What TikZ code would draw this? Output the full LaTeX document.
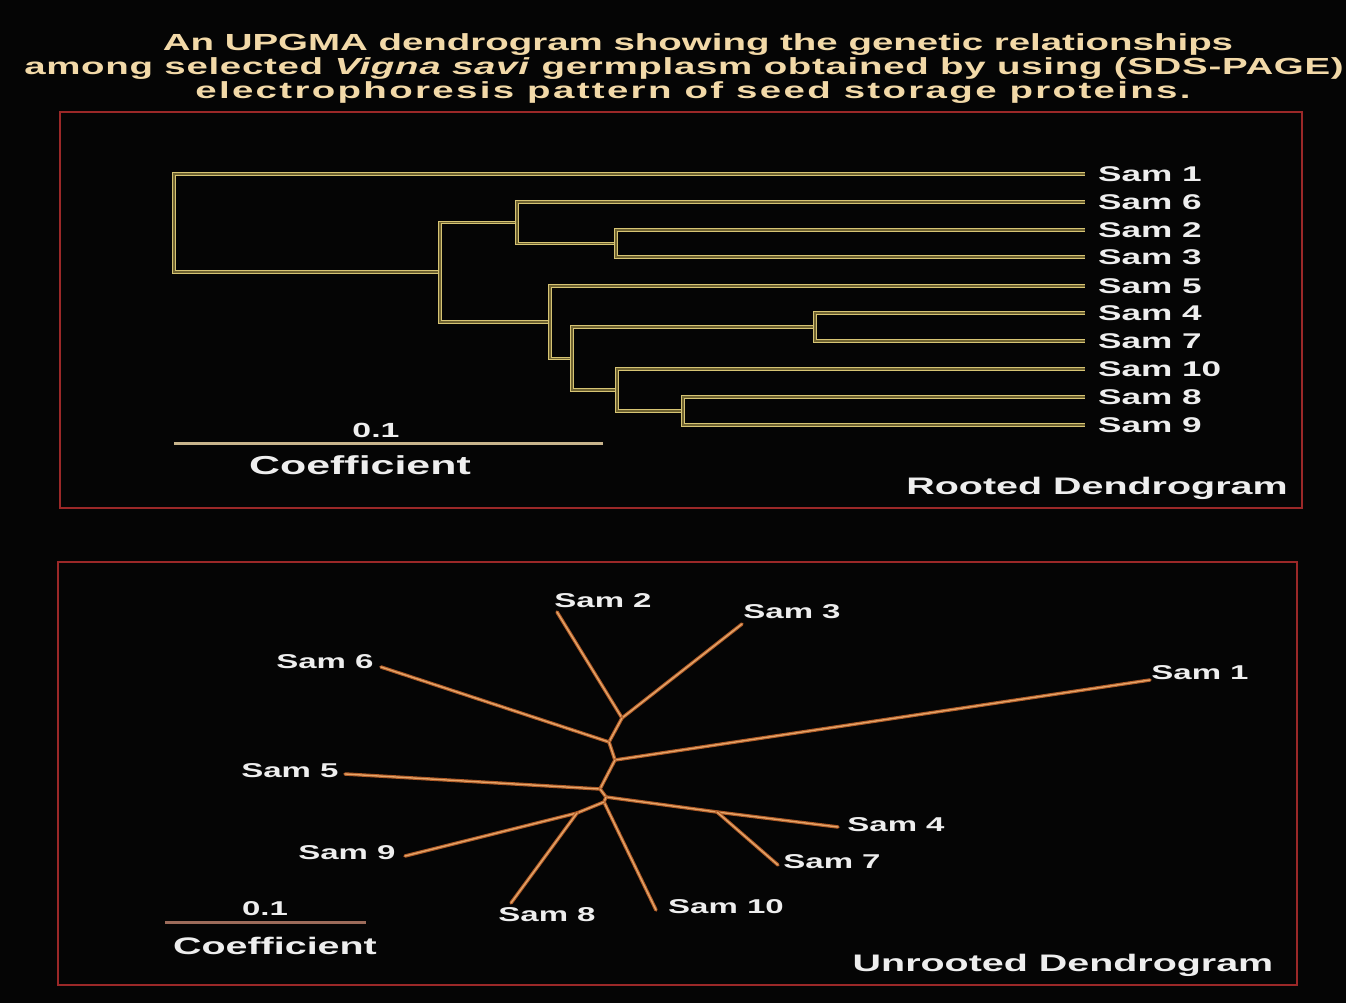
\documentclass[tikz,border=0pt]{standalone}
\usepackage{fontspec}
\setmainfont{Liberation Sans}[FakeStretch=1.65]
\definecolor{bg}{HTML}{050505}
\definecolor{titlecol}{HTML}{F2D9A8}
\definecolor{labcol}{HTML}{EEEEEE}
\definecolor{framecol}{HTML}{9B2828}
\definecolor{rootout}{HTML}{D6C474}
\definecolor{rootin}{HTML}{6E6230}
\definecolor{unout}{HTML}{B05C28}
\definecolor{unin}{HTML}{E6A66A}
\definecolor{rbar}{HTML}{C8B48C}
\definecolor{ubar}{HTML}{9C6B5A}
\tikzset{
  frame/.style={draw=framecol, line width=2pt},
  rtree/.style={draw=rootout, line width=1.2pt, double=rootin, double distance=1.2pt, line join=miter},
  utree/.style={draw=unout, line width=1.1pt, double=unin, double distance=1.3pt, line cap=round, line join=round},
  rlab/.style={anchor=west, inner xsep=13pt, inner ysep=0pt, text=labcol, font=\bfseries\fontsize{21.3}{22}\selectfont},
  ulab/.style={inner sep=0pt, text=labcol, font=\bfseries\fontsize{20}{21}\selectfont},
  ttl/.style={anchor=base, inner sep=0pt, text=titlecol, font=\bfseries\fontsize{23.3}{24}\selectfont},
  captext/.style={inner sep=0pt, text=labcol, font=\bfseries\fontsize{23.9}{25}\selectfont},
}
\begin{document}
\begin{tikzpicture}[x=1pt,y=-1pt]
\fill[bg] (0,0) rectangle (1346,1003);
\useasboundingbox (0,0) rectangle (1346,1003);

% title
\node[ttl] (t1) at (698,51) {An UPGMA dendrogram showing the genetic relationships};
\node[ttl] (t2) at (684,75) {\addfontfeature{LetterSpace=3}among selected \textit{Vigna savi} germplasm obtained by using (SDS-PAGE)};
\node[ttl] (t3) at (693,99) {\addfontfeature{LetterSpace=10}electrophoresis pattern of seed storage proteins.};

% frames
\draw[frame] (60,112) rectangle (1302,508);
\draw[frame] (58,562) rectangle (1297,985);

% ---------- rooted dendrogram ----------
\node[rlab] (r1) at (1085,174) {Sam 1};
\node[rlab] (r6) at (1085,202) {Sam 6};
\node[rlab] (r2) at (1085,230) {Sam 2};
\node[rlab] (r3) at (1085,257) {Sam 3};
\node[rlab] (r5) at (1085,286) {Sam 5};
\node[rlab] (r4) at (1085,313) {Sam 4};
\node[rlab] (r7) at (1085,341) {Sam 7};
\node[rlab] (r10) at (1085,369) {Sam 10};
\node[rlab] (r8) at (1085,397) {Sam 8};
\node[rlab] (r9) at (1085,425) {Sam 9};

\coordinate (root) at (174,223);
\coordinate (nA) at (440,272);
\coordinate (nB) at (517,222.5);
\coordinate (n23) at (616,243.5);
\coordinate (nC) at (550,322);
\coordinate (nD) at (572,358.5);
\coordinate (n47) at (815,327);
\coordinate (nE) at (617,390);
\coordinate (n89) at (683,411);

\draw[rtree] (root) |- (r1.west);
\draw[rtree] (root) |- (nA);
\draw[rtree] (nA) |- (nB);
\draw[rtree] (nA) |- (nC);
\draw[rtree] (nB) |- (r6.west);
\draw[rtree] (nB) |- (n23);
\draw[rtree] (n23) |- (r2.west);
\draw[rtree] (n23) |- (r3.west);
\draw[rtree] (nC) |- (r5.west);
\draw[rtree] (nC) |- (nD);
\draw[rtree] (nD) |- (n47);
\draw[rtree] (nD) |- (nE);
\draw[rtree] (n47) |- (r4.west);
\draw[rtree] (n47) |- (r7.west);
\draw[rtree] (nE) |- (r10.west);
\draw[rtree] (nE) |- (n89);
\draw[rtree] (n89) |- (r8.west);
\draw[rtree] (n89) |- (r9.west);

\coordinate (rb1) at (174,443);
\coordinate (rb2) at (603,443);
\draw[rbar, line width=3pt] (rb1) -- (rb2);
\node[ulab, font=\bfseries\fontsize{20.5}{21}\selectfont] (rsc) at (376,430) {0.1};
\node[captext, font=\bfseries\fontsize{26}{27}\selectfont] (rcoef) at (360,465) {Coefficient};
\node[captext] (rtitle) at (1097,488) {Rooted Dendrogram};

% ---------- unrooted dendrogram ----------
\node[ulab] (u2) at (603,601) {Sam 2};
\node[ulab] (u3) at (792,612) {Sam 3};
\node[ulab] (u6) at (325,662) {Sam 6};
\node[ulab] (u1) at (1200,673) {Sam 1};
\node[ulab] (u5) at (290,771) {Sam 5};
\node[ulab] (u4) at (896,825) {Sam 4};
\node[ulab] (u7) at (832,862) {Sam 7};
\node[ulab] (u9) at (347,853) {Sam 9};
\node[ulab] (u8) at (547,915) {Sam 8};
\node[ulab] (u10) at (726,907) {Sam 10};

\coordinate (L2) at (557,612);
\coordinate (L3) at (742,624);
\coordinate (L6) at (381,667);
\coordinate (L1) at (1150,680);
\coordinate (L5) at (345,774);
\coordinate (L4) at (838,827);
\coordinate (L7) at (778,865);
\coordinate (L9) at (405,856);
\coordinate (L8) at (511,903);
\coordinate (L10) at (656,910);

\coordinate (j23) at (622,718);
\coordinate (j6) at (609,742);
\coordinate (j1) at (615,760);
\coordinate (j5) at (600,789);
\coordinate (jc) at (606,797);
\coordinate (j47) at (717,812);
\coordinate (jd) at (604,802);
\coordinate (j89) at (577,813);

\draw[utree] (L2) -- (j23);
\draw[utree] (L3) -- (j23);
\draw[utree] (j23) -- (j6);
\draw[utree] (L6) -- (j6);
\draw[utree] (j6) -- (j1);
\draw[utree] (L1) -- (j1);
\draw[utree] (j1) -- (j5);
\draw[utree] (L5) -- (j5);
\draw[utree] (j5) -- (jc);
\draw[utree] (jc) -- (j47);
\draw[utree] (j47) -- (L4);
\draw[utree] (j47) -- (L7);
\draw[utree] (jc) -- (jd);
\draw[utree] (jd) -- (L10);
\draw[utree] (jd) -- (j89);
\draw[utree] (j89) -- (L9);
\draw[utree] (j89) -- (L8);

\coordinate (ub1) at (165,922);
\coordinate (ub2) at (366,922);
\draw[ubar, line width=3pt] (ub1) -- (ub2);
\node[ulab] (usc) at (265,909) {0.1};
\node[captext] (ucoef) at (275,946) {Coefficient};
\node[captext] (utitle) at (1063,965) {Unrooted Dendrogram};
\end{tikzpicture}
\end{document}
